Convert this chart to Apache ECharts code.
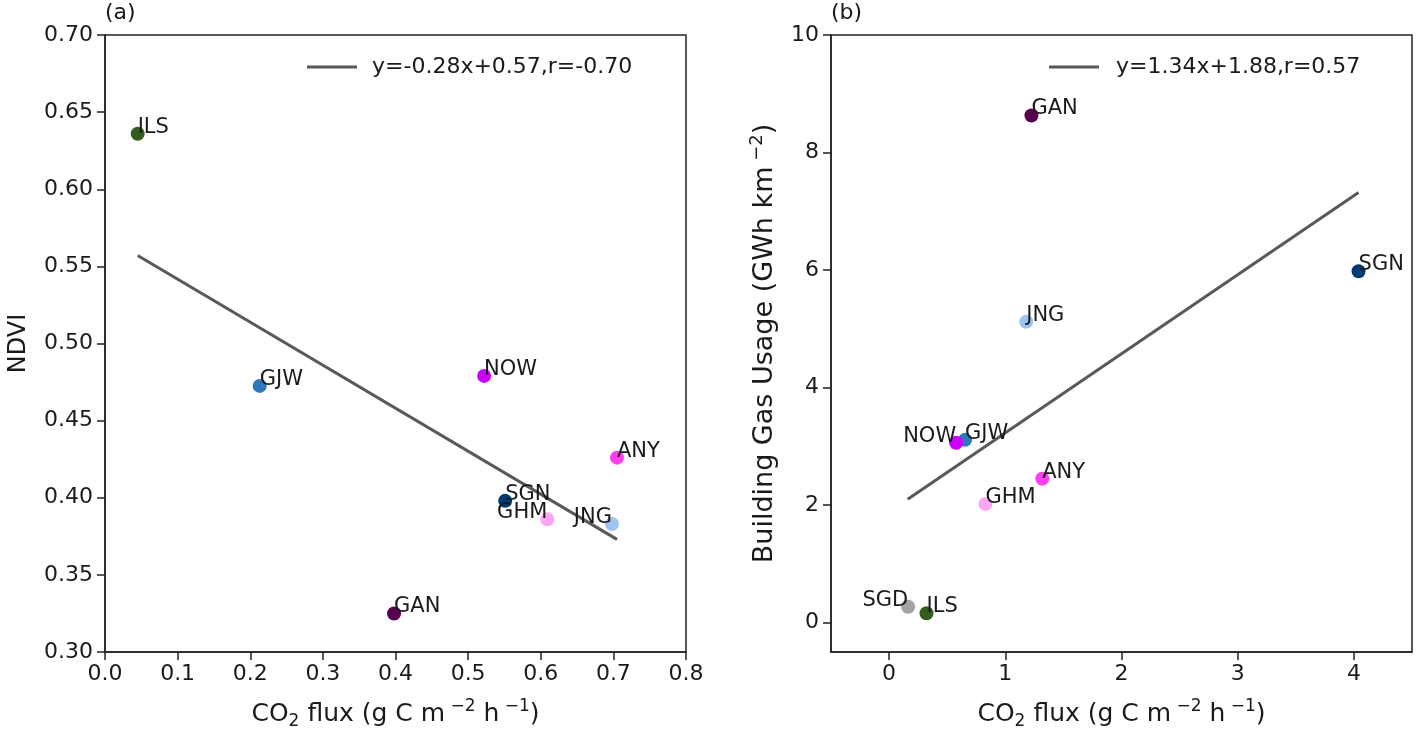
<!DOCTYPE html>
<html><head><meta charset="utf-8">
<script src="https://cdn.jsdelivr.net/npm/echarts@6/dist/echarts.min.js"></script>
<style>html,body{margin:0;padding:0;background:#fff}#c{width:1416px;height:735px}</style>
</head><body><div id="c"></div>
<script>
// ---- Panel (a): CO2 flux vs NDVI ----
const sitesA = ['ILS', 'GJW', 'NOW', 'ANY', 'SGN', 'GHM', 'JNG', 'GAN'];
const fluxA  = [0.045, 0.213, 0.522, 0.705, 0.551, 0.609, 0.698, 0.398];
const ndviA  = [0.636, 0.4725, 0.479, 0.426, 0.398, 0.386, 0.383, 0.325];
const fitAx  = [0.045, 0.705];
const fitAy  = [0.557, 0.373];
const fitAName = 'y=-0.28x+0.57,r=-0.70';
const xTicksA = [0, 0.1, 0.2, 0.3, 0.4, 0.5, 0.6, 0.7, 0.8];
const yTicksA = [0.30, 0.35, 0.40, 0.45, 0.50, 0.55, 0.60, 0.65, 0.70];

// ---- Panel (b): CO2 flux vs building gas usage ----
const sitesB = ['GAN', 'SGN', 'JNG', 'GJW', 'NOW', 'ANY', 'GHM', 'SGD', 'ILS'];
const fluxB  = [1.225, 4.04, 1.18, 0.654, 0.577, 1.318, 0.829, 0.164, 0.322];
const gasB   = [8.63, 5.98, 5.12, 3.11, 3.06, 2.45, 2.02, 0.27, 0.16];
const fitBx  = [0.16, 4.04];
const fitBy  = [2.10, 7.32];
const fitBName = 'y=1.34x+1.88,r=0.57';
const xTicksB = [0, 1, 2, 3, 4];
const yTicksB = [0, 2, 4, 6, 8, 10];

// ---- styles ----
const siteColors = {
  ILS: '#335d1f', GJW: '#2e77bd', NOW: '#cc00ff', ANY: '#ff3ef2', SGN: '#003b73',
  GHM: '#ffa5f5', JNG: '#9dc4ec', GAN: '#570052', SGD: '#a3a3a3'
};
const rightLabelsA = ['GHM', 'JNG'];
const rightLabelsB = ['NOW', 'SGD'];

const FONT = 'DejaVu Sans';
const TXT = '#1a1a1a';
const SPINE = '#222';
const FIT = '#595959';

function pts(names, xs, ys, rightSet) {
  return names.map((n, i) => ({
    name: n,
    value: [xs[i], ys[i]],
    itemStyle: { color: siteColors[n], opacity: 1 },
    label: {
      show: true, formatter: n, position: [7, 11],
      align: rightSet.includes(n) ? 'right' : 'left', verticalAlign: 'bottom',
      fontFamily: FONT, fontSize: 21, color: TXT
    }
  }));
}
function line(xs, ys) { return xs.map((x, i) => [x, ys[i]]); }

function richName(size) {
  const s = Math.round(size * 0.68);
  return {
    n: { fontFamily: FONT, fontSize: size, color: TXT },
    sub: { fontFamily: FONT, fontSize: s, color: TXT, padding: [14, 0, 0, 0] },
    sup: { fontFamily: FONT, fontSize: s, color: TXT, padding: [0, 0, 16, 0] }
  };
}
const co2Name = '{n|CO}{sub|2}{n| flux (g C m}{sup| −2}{n| h}{sup| −1}{n|)}';

function xAxisCfg(idx, min, max, ticks, fmt) {
  return {
    type: 'value', gridIndex: idx, min: min, max: max,
    name: co2Name, nameLocation: 'middle', nameGap: 46,
    nameTextStyle: { rich: richName(25) },
    axisLine: { show: true, onZero: false, lineStyle: { color: SPINE, width: 1.5 } },
    axisTick: { show: true, length: 8, inside: false, customValues: ticks, lineStyle: { color: SPINE, width: 1.5 } },
    axisLabel: { customValues: ticks, formatter: fmt, fontFamily: FONT, fontSize: 22, color: TXT, margin: 11 },
    splitLine: { show: false }
  };
}
function yAxisCfg(idx, min, max, ticks, fmt, name, gap, size) {
  return {
    type: 'value', gridIndex: idx, min: min, max: max,
    name: name, nameLocation: 'middle', nameGap: gap, nameRotate: 90,
    nameTextStyle: { rich: richName(size) },
    axisLine: { show: true, onZero: false, lineStyle: { color: SPINE, width: 1.5 } },
    axisTick: { show: true, length: 8, inside: false, customValues: ticks, lineStyle: { color: SPINE, width: 1.5 } },
    axisLabel: { customValues: ticks, formatter: fmt, fontFamily: FONT, fontSize: 22, color: TXT, margin: 12 },
    splitLine: { show: false }
  };
}

const chart = echarts.init(document.getElementById('c'), null, { renderer: 'canvas' });
chart.setOption({
  animation: false,
  backgroundColor: '#fff',
  title: [
    { text: '(a)', left: 105, top: 2, padding: 0, textStyle: { fontFamily: FONT, fontSize: 22, fontWeight: 'normal', color: TXT } },
    { text: '(b)', left: 831, top: 2, padding: 0, textStyle: { fontFamily: FONT, fontSize: 22, fontWeight: 'normal', color: TXT } }
  ],
  legend: [
    { data: [{ name: fitAName, icon: 'rect' }], left: 307, top: 56, padding: 0, itemWidth: 50, itemHeight: 3,
      textStyle: { fontFamily: FONT, fontSize: 22, color: TXT, padding: [0, 0, 0, 10] } },
    { data: [{ name: fitBName, icon: 'rect' }], left: 1049, top: 56, padding: 0, itemWidth: 50, itemHeight: 3,
      textStyle: { fontFamily: FONT, fontSize: 22, color: TXT, padding: [0, 0, 0, 12] } }
  ],
  grid: [
    { left: 105, right: 730, top: 35, bottom: 83, show: true, borderColor: SPINE, borderWidth: 1.5, backgroundColor: 'transparent' },
    { left: 831, right: 4, top: 35, bottom: 83, show: true, borderColor: SPINE, borderWidth: 1.5, backgroundColor: 'transparent' }
  ],
  xAxis: [
    xAxisCfg(0, 0, 0.8, xTicksA, v => v.toFixed(1)),
    xAxisCfg(1, -0.5, 4.5, xTicksB, v => String(v))
  ],
  yAxis: [
    yAxisCfg(0, 0.30, 0.70, yTicksA, v => v.toFixed(2), '{n|NDVI}', 74, 24),
    yAxisCfg(1, -0.5, 10, yTicksB, v => String(v), '{n|Building Gas Usage (GWh km}{sup| −2}{n|)}', 49, 27)
  ],
  series: [
    { type: 'line', name: fitAName, xAxisIndex: 0, yAxisIndex: 0, data: line(fitAx, fitAy),
      symbol: 'none', lineStyle: { color: FIT, width: 3 }, itemStyle: { color: FIT }, z: 2 },
    { type: 'scatter', xAxisIndex: 0, yAxisIndex: 0, symbolSize: 14, data: pts(sitesA, fluxA, ndviA, rightLabelsA), z: 3 },
    { type: 'line', name: fitBName, xAxisIndex: 1, yAxisIndex: 1, data: line(fitBx, fitBy),
      symbol: 'none', lineStyle: { color: FIT, width: 3 }, itemStyle: { color: FIT }, z: 2 },
    { type: 'scatter', xAxisIndex: 1, yAxisIndex: 1, symbolSize: 14, data: pts(sitesB, fluxB, gasB, rightLabelsB), z: 3 }
  ]
});
</script>
</body></html>
